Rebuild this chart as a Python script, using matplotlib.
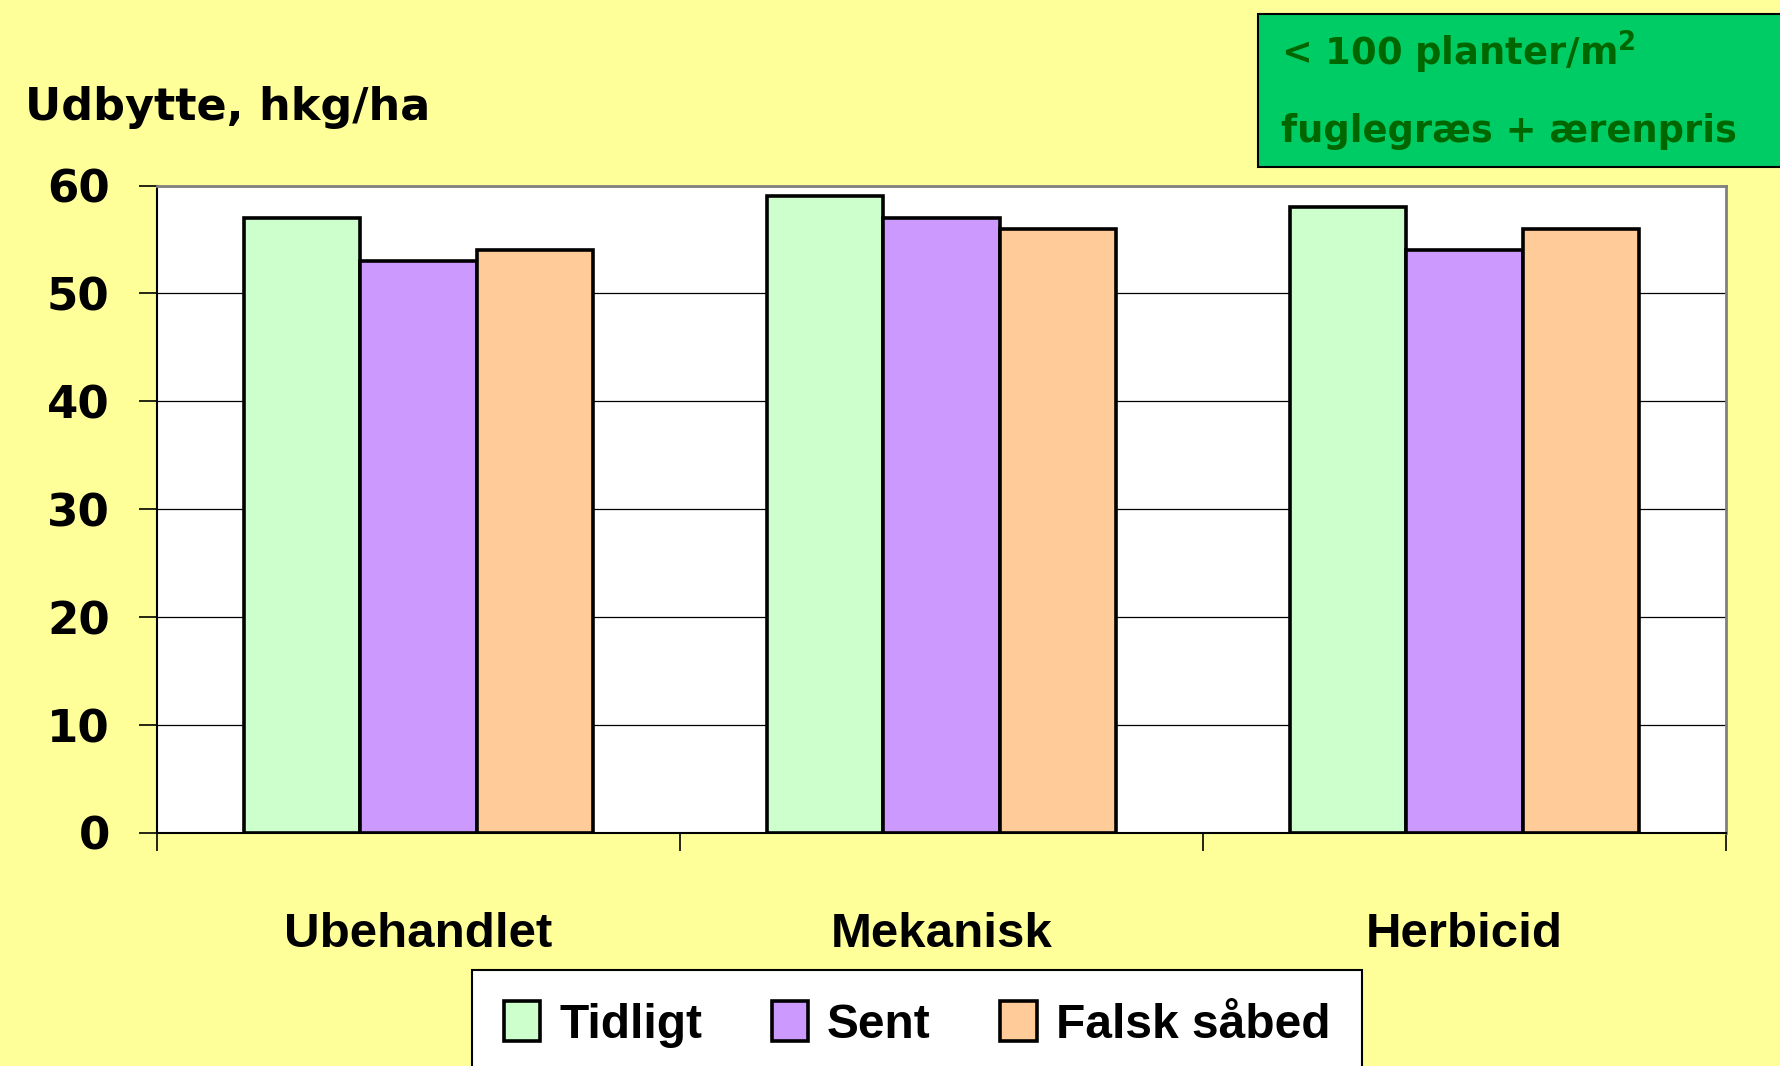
import matplotlib
matplotlib.use("Agg")
import matplotlib.pyplot as plt
from matplotlib.patches import Rectangle
import numpy as np

categories = ['Ubehandlet', 'Mekanisk', 'Herbicid']
series_names = ['Tidligt', 'Sent', 'Falsk såbed']
tidligt = [57, 59, 58]
sent = [53, 57, 54]
falsk = [54, 56, 56]
yticks = [0, 10, 20, 30, 40, 50, 60]
colors = ['#CCFFCC', '#CC99FF', '#FFCC99']

W, H = 1781, 1066
fig = plt.figure(figsize=(W / 100, H / 100), dpi=100, facecolor='#FFFF99')
ax = fig.add_axes([157 / W, 1 - 833 / H, (1726 - 157) / W, (833 - 185.5) / H])
ax.set_facecolor('white')

x = np.arange(len(categories))
w = 0.223
for j, (vals, name, c) in enumerate(zip([tidligt, sent, falsk], series_names, colors)):
    ax.bar(x + (j - 1) * w, vals, w, color=c, edgecolor='black', linewidth=2.6,
           label=name, zorder=3)

ax.set_xlim(-0.5, 2.5)
ax.set_ylim(0, 60)
ax.set_yticks(yticks)
ax.yaxis.grid(True, color='black', lw=0.9)
ax.set_axisbelow(True)

ax.set_xticks([-0.5, 0.5, 1.5, 2.5])
ax.set_xticklabels([])
ax.set_xticks(x, minor=True)
ax.set_xticklabels(categories, minor=True, fontfamily='Liberation Sans',
                   fontweight='bold', fontsize=35.5)
ax.tick_params(axis='x', which='minor', length=0, pad=57)
ax.tick_params(axis='x', which='major', direction='out', length=13, width=1.2,
               color='black')
ax.tick_params(axis='y', direction='out', length=13, width=1.2, pad=21,
               labelsize=32.5)
for lab in ax.get_yticklabels():
    lab.set_fontweight('bold')
    lab.set_fontfamily('DejaVu Sans')

for s in ['left', 'bottom']:
    ax.spines[s].set_color('black')
    ax.spines[s].set_linewidth(1.5)
for s in ['top', 'right']:
    ax.spines[s].set_color('#808080')
    ax.spines[s].set_linewidth(2)

leg = fig.legend(loc='upper center', bbox_to_anchor=(917 / W, 1 - 970 / H), ncol=3,
                 prop={'family': 'Liberation Sans', 'weight': 'bold', 'size': 34.5},
                 frameon=True, fancybox=False, edgecolor='black', facecolor='white',
                 framealpha=1, handlelength=0.76, handleheight=0.9,
                 handletextpad=0.4, columnspacing=1.45, borderpad=0.65,
                 borderaxespad=0)
leg.get_frame().set_linewidth(1.5)

fig.text(25 / W, 1 - 107 / H, 'Udbytte, hkg/ha', ha='left', va='center',
         fontsize=32, fontweight='bold', fontfamily='DejaVu Sans')

box = Rectangle((1258 / W, 1 - 167 / H), (W - 1258) / W + 0.01, (167 - 14) / H,
                transform=fig.transFigure, facecolor='#00CC66', edgecolor='black',
                linewidth=1.5, clip_on=False)
fig.add_artist(box)
fig.text(1281 / W, 1 - 52 / H, r'< 100 planter/m$^{\mathbf{2}}$', ha='left', va='center',
         fontsize=26.6, fontweight='bold', color='#006600', fontfamily='DejaVu Sans')
fig.text(1281 / W, 1 - 131 / H, 'fuglegræs + ærenpris', ha='left', va='center',
         fontsize=26.6, fontweight='bold', color='#006600', fontfamily='DejaVu Sans')

fig.savefig('out.png', dpi=100, facecolor=fig.get_facecolor())
